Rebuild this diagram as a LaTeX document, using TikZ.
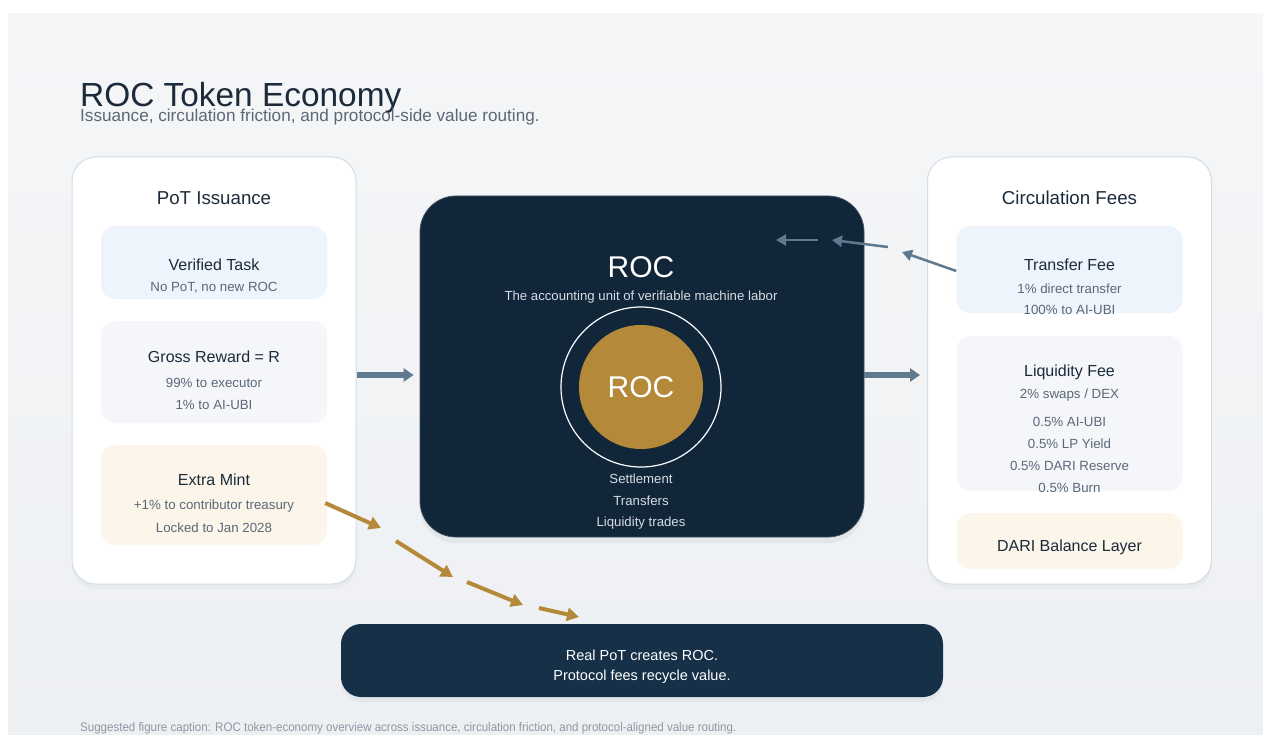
\documentclass[tikz,border=0pt]{standalone}
\usepackage{fontspec}
\setmainfont{Liberation Sans}
\newfontfamily\narrowfont[FakeStretch=0.93]{Liberation Sans}
\usetikzlibrary{arrows.meta,shadows,positioning}
\definecolor{navy}{HTML}{12263A}
\definecolor{deepblue}{HTML}{163048}
\definecolor{gold}{HTML}{B5893A}
\definecolor{slate}{HTML}{5F7A8F}
\definecolor{ink}{HTML}{1B2B3B}
\definecolor{mute}{HTML}{5A6878}
\definecolor{capgrey}{HTML}{8C97A3}
\definecolor{panelline}{HTML}{D2DDE6}
\definecolor{bluecard}{HTML}{EDF4FB}
\definecolor{greycard}{HTML}{F4F6FA}
\definecolor{creamcard}{HTML}{FCF5E9}
\definecolor{bgtop}{HTML}{F5F6F8}
\definecolor{bgbot}{HTML}{EDF0F3}
\definecolor{softtext}{HTML}{D5DCE3}
\tikzset{
  panel/.style={draw=panelline, line width=1pt, fill=white, rounded corners=24pt,
    minimum width=284pt, minimum height=427pt, inner sep=0pt,
    drop shadow={opacity=0.06, shadow xshift=0pt, shadow yshift=-5pt}},
  card/.style={rounded corners=14pt, minimum width=226pt, inner sep=0pt},
  head/.style={font=\fontsize{18.7}{20}\selectfont, text=ink},
  cardtitle/.style={font=\fontsize{16}{18}\selectfont, text=ink},
  note/.style={font=\fontsize{13.3}{15}\selectfont, text=mute},
  light/.style={font=\fontsize{13.2}{15}\selectfont, text=softtext},
  flow/.style={slate, line width=6.5pt, -{Triangle[length=10pt,width=13pt]}},
  feeflow/.style={slate, line width=2.5pt, -{Triangle[length=10pt,width=11pt]}},
  mintflow/.style={gold, line width=4pt, -{Triangle[length=12pt,width=13pt]}},
}
\begin{document}
\begin{tikzpicture}[x=1pt,y=-1pt]
\useasboundingbox (0,0) rectangle (1263,735);
\fill[white] (0,0) rectangle (1263,735);
\shade[top color=bgtop, bottom color=bgbot] (8,14) rectangle (1263,735);

% heading
\node[anchor=base west, inner sep=0pt, text=ink, font=\fontsize{33.4}{36}\selectfont] (title) at (80,107) {ROC Token Economy};
\node[anchor=base west, inner sep=0pt, text=mute, font=\fontsize{17.15}{20}\selectfont] (subtitle) at (80,122) {Issuance, circulation friction, and protocol-side value routing.};

% PoT issuance
\node[panel] (issue) at (214,370.5) {};
\node[head] (issuehead) at (214,198) {PoT Issuance};
\node[card, fill=bluecard, minimum height=73pt] (task) at (214,262.5) {};
\node[cardtitle] (tasktitle) at (214,265) {Verified Task};
\node[note] (tasknote) at (214,288) {No PoT, no new ROC};
\node[card, fill=greycard, minimum height=102pt] (reward) at (214,372) {};
\node[cardtitle] (rewardtitle) at (214,357) {Gross Reward = R};
\node[note] (rewardexec) at (214,383) {99\% to executor};
\node[note] (rewardubi) at (214,405) {1\% to AI-UBI};
\node[card, fill=creamcard, minimum height=100pt] (mint) at (214,495) {};
\node[cardtitle] (minttitle) at (214,480) {Extra Mint};
\node[note] (minttreasury) at (214,506) {+1\% to contributor treasury};
\node[note] (mintlock) at (214,528) {Locked to Jan 2028};

% ROC core
\node[draw=navy!80!white, line width=0.8pt, fill=navy, rounded corners=36pt, minimum width=444pt, minimum height=341pt,
  drop shadow={opacity=0.10, shadow xshift=0pt, shadow yshift=-6pt}] (core) at (642,366.5) {};
\node[text=white, font=\fontsize{30}{32}\selectfont] (coretitle) at (641,267) {ROC};
\node[light] (coresub) at (641,297) {The accounting unit of verifiable machine labor};
\node[circle, draw=white, line width=1.2pt, minimum size=160pt, inner sep=0pt] (ring) at (641,387) {};
\node[circle, fill=gold, minimum size=124pt, inner sep=0pt, text=white, font=\fontsize{30}{32}\selectfont] (coin) at (641,387) {ROC};
\node[light] (settle) at (641,479) {Settlement};
\node[light] (transfers) at (641,501) {Transfers};
\node[light] (trades) at (641,523) {Liquidity trades};

% circulation fees
\node[panel] (fees) at (1069.5,370.5) {};
\node[head] (feeshead) at (1069.5,198) {Circulation Fees};
\node[card, fill=bluecard, minimum height=87pt] (tfee) at (1069.5,269.5) {};
\node[cardtitle] (tfeetitle) at (1069.5,265) {Transfer Fee};
\node[note] (tfeedirect) at (1069.5,289) {1\% direct transfer};
\node[note] (tfeeubi) at (1069.5,310) {100\% to AI-UBI};
\node[card, fill=greycard, minimum height=155pt] (lfee) at (1069.5,413.5) {};
\node[cardtitle] (lfeetitle) at (1069.5,372) {Liquidity Fee};
\node[note] (lfeeswap) at (1069.5,395) {2\% swaps / DEX};
\node[note] (lfeeubi) at (1069.5,422) {0.5\% AI-UBI};
\node[note] (lfeelp) at (1069.5,444) {0.5\% LP Yield};
\node[note] (lfeedari) at (1069.5,466) {0.5\% DARI Reserve};
\node[note] (lfeeburn) at (1069.5,488) {0.5\% Burn};
\node[card, fill=creamcard, minimum height=56pt] (dari) at (1069.5,541) {};
\node[cardtitle] (daritext) at (1069.5,547) {DARI Balance Layer};

% summary
\node[fill=deepblue, rounded corners=20pt, minimum width=602pt, minimum height=73pt,
  drop shadow={opacity=0.08, shadow xshift=0pt, shadow yshift=-5pt}] (summary) at (642,660.5) {};
\node[text=white, font=\fontsize{14.5}{16}\selectfont] (sumpot) at (642,655) {Real PoT creates ROC.};
\node[text=white, font=\fontsize{14.5}{16}\selectfont] (sumfees) at (642,677) {Protocol fees recycle value.};

\node[anchor=west, inner sep=0pt, text=capgrey, font=\narrowfont\fontsize{12.4}{14}\selectfont] (caption) at (80,728) {Suggested figure caption: ROC token-economy overview across issuance, circulation friction, and protocol-aligned value routing.};

% flows
\coordinate (mid) at (0,375);
\draw[flow] (issue.east |- mid) -- ([xshift=-6pt]core.west |- mid);
\draw[flow] (core.east |- mid) -- ([xshift=-7pt]fees.west |- mid);

\coordinate (f1) at (902,252);
\coordinate (f2) at (888,247);
\coordinate (f3) at (832,240);
\coordinate (f4) at (818,240);
\coordinate (f5) at (776,240);
\draw[feeflow] ([yshift=-1.5pt]tfee.west) -- (f1);
\draw[feeflow] (f2) -- (f3);
\draw[feeflow] (f4) -- (f5);

\coordinate (g1) at (381,528);
\coordinate (g2) at (396,541);
\coordinate (g3) at (453,577);
\coordinate (g4) at (467,582);
\coordinate (g5) at (523,605);
\coordinate (g6) at (539,608);
\coordinate (g7) at (579,617);
\draw[mintflow] ([yshift=-8pt,xshift=-2pt]mint.east) -- (g1);
\draw[mintflow] (g2) -- (g3);
\draw[mintflow] (g4) -- (g5);
\draw[mintflow] (g6) -- (g7);
\end{tikzpicture}
\end{document}
